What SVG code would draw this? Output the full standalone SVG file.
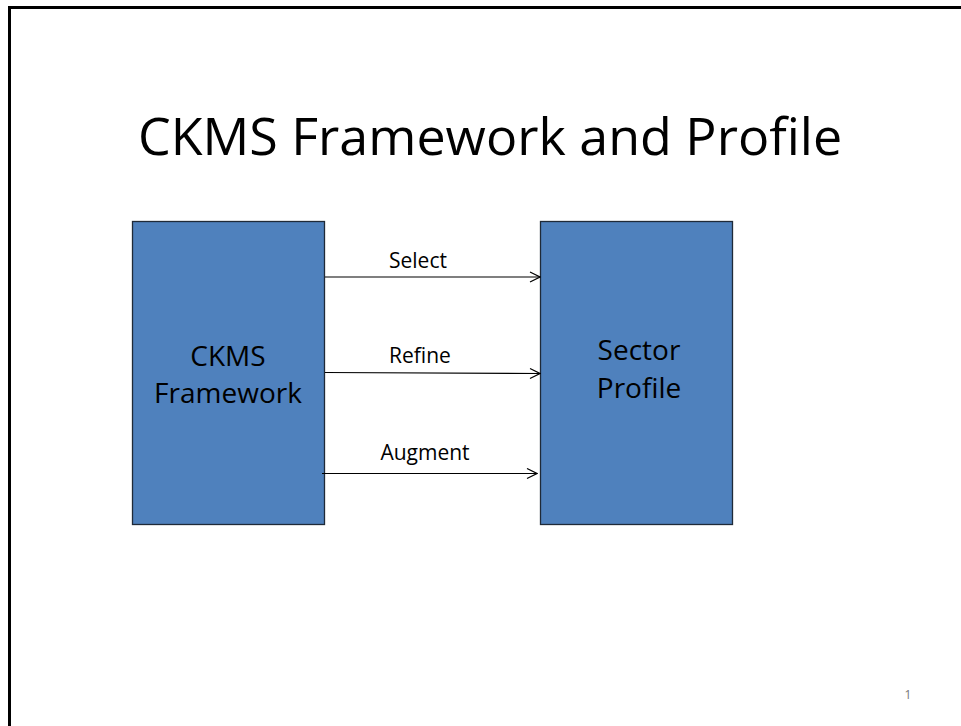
<svg xmlns="http://www.w3.org/2000/svg" width="961" height="726" viewBox="0 0 961 726">
<style>
.box{fill:#4F81BD;stroke:#1f2a38;stroke-width:1.3}
.t{font-family:"Open Sans","Noto Sans",sans-serif;fill:#000;text-anchor:middle}
.lbl{font-size:21px}
.big{font-size:28px}
.conn{stroke:#000;stroke-width:1.2;fill:none;marker-end:url(#ah)}
</style>
<defs>
<marker id="ah" markerWidth="12" markerHeight="12" refX="11" refY="6" orient="auto" markerUnits="userSpaceOnUse">
<path d="M1,1 L11,6 L1,11" fill="none" stroke="#000" stroke-width="1.2"/>
</marker>
</defs>
<rect width="961" height="726" fill="#fff"/>
<path d="M9.5,726 L9.5,7.5 L961,7.5" fill="none" stroke="#000" stroke-width="3"/>
<text class="t" x="490" y="155" font-size="52">CKMS Framework and Profile</text>
<g id="ckms-framework">
<rect class="box" x="132.5" y="221.5" width="192" height="303"/>
<text class="t big" x="228" y="366">CKMS</text>
<text class="t big" x="228" y="403">Framework</text>
</g>
<g id="sector-profile">
<rect class="box" x="540.5" y="221.5" width="192" height="303"/>
<text class="t big" x="639" y="360">Sector</text>
<text class="t big" x="639" y="398">Profile</text>
</g>
<g id="connectors">
<line class="conn" x1="325" y1="277" x2="540" y2="277"/>
<text class="t lbl" x="418" y="268">Select</text>
<line class="conn" x1="325" y1="372.5" x2="540" y2="373.5"/>
<text class="t lbl" x="420" y="363">Refine</text>
<line class="conn" x1="322" y1="473.5" x2="537" y2="473.5"/>
<text class="t lbl" x="425" y="460">Augment</text>
</g>
<text x="908" y="699" font-family="'Open Sans',sans-serif" font-size="12" fill="#777" text-anchor="middle">1</text>
</svg>
